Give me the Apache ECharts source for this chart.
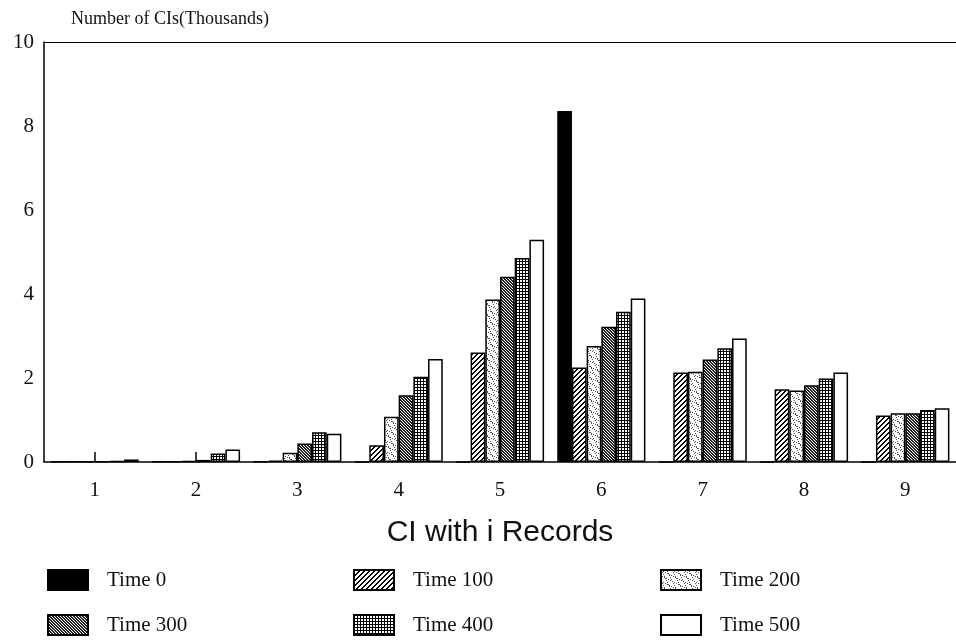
<!DOCTYPE html>
<html>
<head>
<meta charset="utf-8">
<script src="https://cdn.jsdelivr.net/npm/echarts@6/dist/echarts.min.js"></script>
<style>
html,body{margin:0;padding:0;background:#fff;}
#chart{width:956px;height:642px;}
</style>
</head>
<body>
<div id="chart"></div>
<script>
const categories = ['1','2','3','4','5','6','7','8','9'];
const seriesNames = ['Time 0','Time 100','Time 200','Time 300','Time 400','Time 500'];
const time0   = [0.01, 0.01, 0.01, 0, 0, 8.36, 0, 0, 0];
const time100 = [0.01, 0.01, 0.03, 0.40, 2.61, 2.25, 2.13, 1.73, 1.11];
const time200 = [0.01, 0.02, 0.22, 1.08, 3.87, 2.76, 2.15, 1.70, 1.16];
const time300 = [0.01, 0.05, 0.44, 1.59, 4.41, 3.22, 2.44, 1.83, 1.16];
const time400 = [0.02, 0.20, 0.71, 2.03, 4.86, 3.58, 2.71, 1.99, 1.24];
const time500 = [0.06, 0.30, 0.67, 2.45, 5.29, 3.89, 2.94, 2.13, 1.28];
const yTicks = [0, 2, 4, 6, 8, 10];

function makePattern(size, test, fg) {
  const c = document.createElement('canvas');
  c.width = size; c.height = size;
  const g = c.getContext('2d');
  g.fillStyle = '#fff'; g.fillRect(0, 0, size, size);
  g.fillStyle = fg || '#000';
  for (let x = 0; x < size; x++) for (let y = 0; y < size; y++) {
    if (test(x, y, size)) g.fillRect(x, y, 1, 1);
  }
  return { image: c, repeat: 'repeat' };
}
const fills = [
  '#000',
  makePattern(10, (x, y) => (x + y) % 5 < 2),
  makePattern(11, (x, y) => ((x * 7 + y * 13) % 11 === 0) || ((x * 3 + y * 5) % 11 === 0), '#555'),
  makePattern(12, (x, y, s) => ((x - y + s) % 3) < 2, '#222'),
  makePattern(12, (x, y) => (x % 3 === 0) || (y % 3 === 0)),
  '#fff'
];
const dataSets = [time0, time100, time200, time300, time400, time500];

const serif = '"Liberation Serif", "DejaVu Serif", serif';
const series = seriesNames.map((n, i) => ({
  name: n,
  type: 'bar',
  data: dataSets[i],
  barGap: '0%',
  barCategoryGap: '13%',
  itemStyle: { color: fills[i], borderColor: '#000', borderWidth: 1.5 },
  emphasis: { disabled: true }
}));

// legend placement: column x / row y per series
const legendLeft = [42, 348, 655, 42, 348, 655];
const legendTop  = [564, 564, 564, 609, 609, 609];
const legends = seriesNames.map((n, i) => ({
  data: [n], left: legendLeft[i], top: legendTop[i],
  itemWidth: 40, itemHeight: 20, icon: 'rect', selectedMode: false,
  textStyle: { fontFamily: serif, fontSize: 21, color: '#111', padding: [0, 0, 0, 14] }
}));

const chart = echarts.init(document.getElementById('chart'), null, { renderer: 'canvas' });
chart.setOption({
  animation: false,
  backgroundColor: '#fff',
  title: {
    text: 'Number of CIs(Thousands)', left: 66, top: 5,
    textStyle: { fontFamily: serif, fontSize: 18, fontWeight: 'normal', color: '#111' }
  },
  legend: legends,
  grid: { left: 44, right: 0, top: 42, bottom: 180 },
  xAxis: [{
    type: 'category', data: categories,
    axisLine: { show: true, lineStyle: { color: '#000', width: 1.5 } },
    axisTick: { show: true, inside: true, alignWithLabel: true, length: 10, lineStyle: { color: '#000', width: 1.5 } },
    axisLabel: { fontFamily: serif, fontSize: 21, color: '#111', margin: 18 },
    name: 'CI with i Records', nameLocation: 'middle', nameGap: 56,
    nameTextStyle: { fontFamily: '"Liberation Sans", Arial, sans-serif', fontSize: 30, color: '#111' }
  }, {
    type: 'category', data: categories, position: 'top',
    axisLine: { show: true, lineStyle: { color: '#000', width: 1.2 } },
    axisTick: { show: false }, axisLabel: { show: false }
  }],
  yAxis: {
    type: 'value', min: yTicks[0], max: yTicks[yTicks.length - 1], interval: 2,
    axisLine: { show: true, lineStyle: { color: '#000', width: 1.5 } },
    axisTick: { show: false },
    splitLine: { show: false },
    axisLabel: { fontFamily: serif, fontSize: 21, color: '#111', margin: 10 }
  },
  series: series
});
</script>
</body>
</html>
